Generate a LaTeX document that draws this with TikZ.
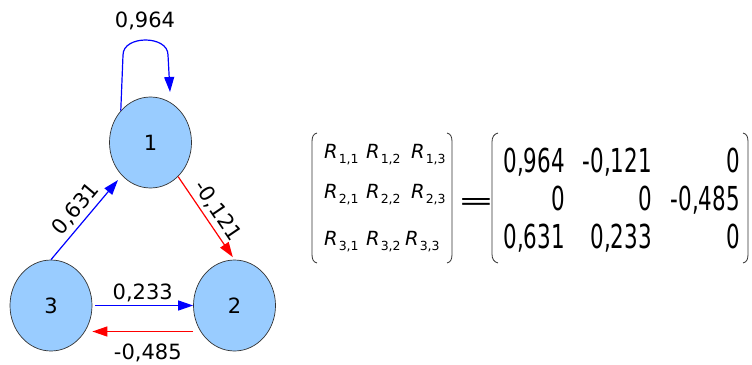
\documentclass[tikz,border=0pt]{standalone}
\usepackage{graphicx}
\usepackage{fontspec}
\setmainfont{DejaVu Sans}
\newfontfamily\condfont[FakeStretch=0.65]{DejaVu Sans}
\usetikzlibrary{shapes.geometric,arrows.meta}
\definecolor{nodeblue}{RGB}{153,204,255}
\begin{document}
\begin{tikzpicture}[x=1pt,y=-1pt,
  vertex/.style={ellipse, draw=black!80, line width=0.7pt, fill=nodeblue,
    minimum width=82pt, minimum height=91pt, inner sep=0pt,
    font=\fontsize{21}{21}\selectfont},
  posedge/.style={draw=blue, line width=1.2pt, -{Triangle[length=15pt,width=10pt]}},
  negedge/.style={draw=red, line width=1.2pt, -{Triangle[length=15pt,width=10pt]}},
  wlabel/.style={font=\fontsize{21}{21}\selectfont, inner sep=3pt, text=black},
  rent/.style={anchor=base west, inner sep=0pt, font=\fontsize{19.5}{19.5}\selectfont\itshape},
  nent/.style={anchor=base east, inner sep=0pt, font=\condfont\fontsize{33}{33}\selectfont},
  paren/.style={draw=black!80, line width=0.8pt}
]
\useasboundingbox (0,0) rectangle (752,364);
\newcommand{\rsub}[1]{\kern1pt\raisebox{-5pt}{\upshape\fontsize{12.5}{12.5}\selectfont #1}}

% graph nodes
\node[vertex] (n1) at (150.5,142.5) {1};
\node[vertex] (n3) at (51,305.5) {3};
\node[vertex] (n2) at (234.5,305.5) {2};

% edges
\draw[posedge, shorten >=6pt] (n3.north) -- (n1.-131)
  node[midway, above=1pt, sloped, wlabel] (w31) {0,631};
\draw[negedge, shorten >=3pt] (n1.-51) -- (n2.north)
  node[midway, above=1pt, sloped, wlabel] (w12) {-0,121};
\draw[posedge, shorten <=3pt] (n3.east) -- (n2.west)
  node[midway, above, wlabel] (w32) {0,233};
\draw[negedge] ([yshift=-26pt]n2.west) -- ([yshift=-26pt]n3.east)
  node[pos=0.45, below=9pt, wlabel] (w23) {-0,485};

% self loop
\coordinate (lA) at (123,55);
\coordinate (lB) at (123,35);
\coordinate (lC) at (168,35);
\coordinate (lD) at (168,55);
\coordinate (lE) at (170,92);
\draw[posedge] (n1.133) -- (lA) .. controls (lB) and (lC) .. (lD) -- (lE);
\node[wlabel] (w11) at (145,21) {0,964};

% left matrix parentheses
\draw[paren] (317,133) .. controls (313,134) and (312,137) .. (312,142) -- (312,254) .. controls (312,259) and (313,262) .. (317,263);
\draw[paren] (447,133) .. controls (451,134) and (452,137) .. (452,142) -- (452,254) .. controls (452,259) and (451,262) .. (447,263);

% left matrix entries
\node[rent] (r11) at (324,158) {R\rsub{1,1}};
\node[rent] (r12) at (366,158) {R\rsub{1,2}};
\node[rent] (r13) at (411,158) {R\rsub{1,3}};
\node[rent] (r21) at (324,198) {R\rsub{2,1}};
\node[rent] (r22) at (366,198) {R\rsub{2,2}};
\node[rent] (r23) at (411,198) {R\rsub{2,3}};
\node[rent] (r31) at (324,245) {R\rsub{3,1}};
\node[rent] (r32) at (366,245) {R\rsub{3,2}};
\node[rent] (r33) at (405,245) {R\rsub{3,3}};

% equals sign
\node[inner sep=0pt] (eq) at (476,204) {\scalebox{1}[0.55]{\fontsize{44}{44}\selectfont =}};

% right matrix parentheses
\draw[paren] (498,133) .. controls (494,134) and (492,137) .. (492,142) -- (492,254) .. controls (492,259) and (494,262) .. (498,263);
\draw[paren] (743,133) .. controls (747,134) and (748,137) .. (748,142) -- (748,254) .. controls (748,259) and (747,262) .. (743,263);

% right matrix entries
\node[nent] (m11) at (565,172) {0,964};
\node[nent] (m12) at (652,172) {-0,121};
\node[nent] (m13) at (740,172) {0};
\node[nent] (m21) at (565,210.5) {0};
\node[nent] (m22) at (652,210.5) {0};
\node[nent] (m23) at (740,210.5) {-0,485};
\node[nent] (m31) at (565,248) {0,631};
\node[nent] (m32) at (652,248) {0,233};
\node[nent] (m33) at (740,248) {0};
\end{tikzpicture}
\end{document}
